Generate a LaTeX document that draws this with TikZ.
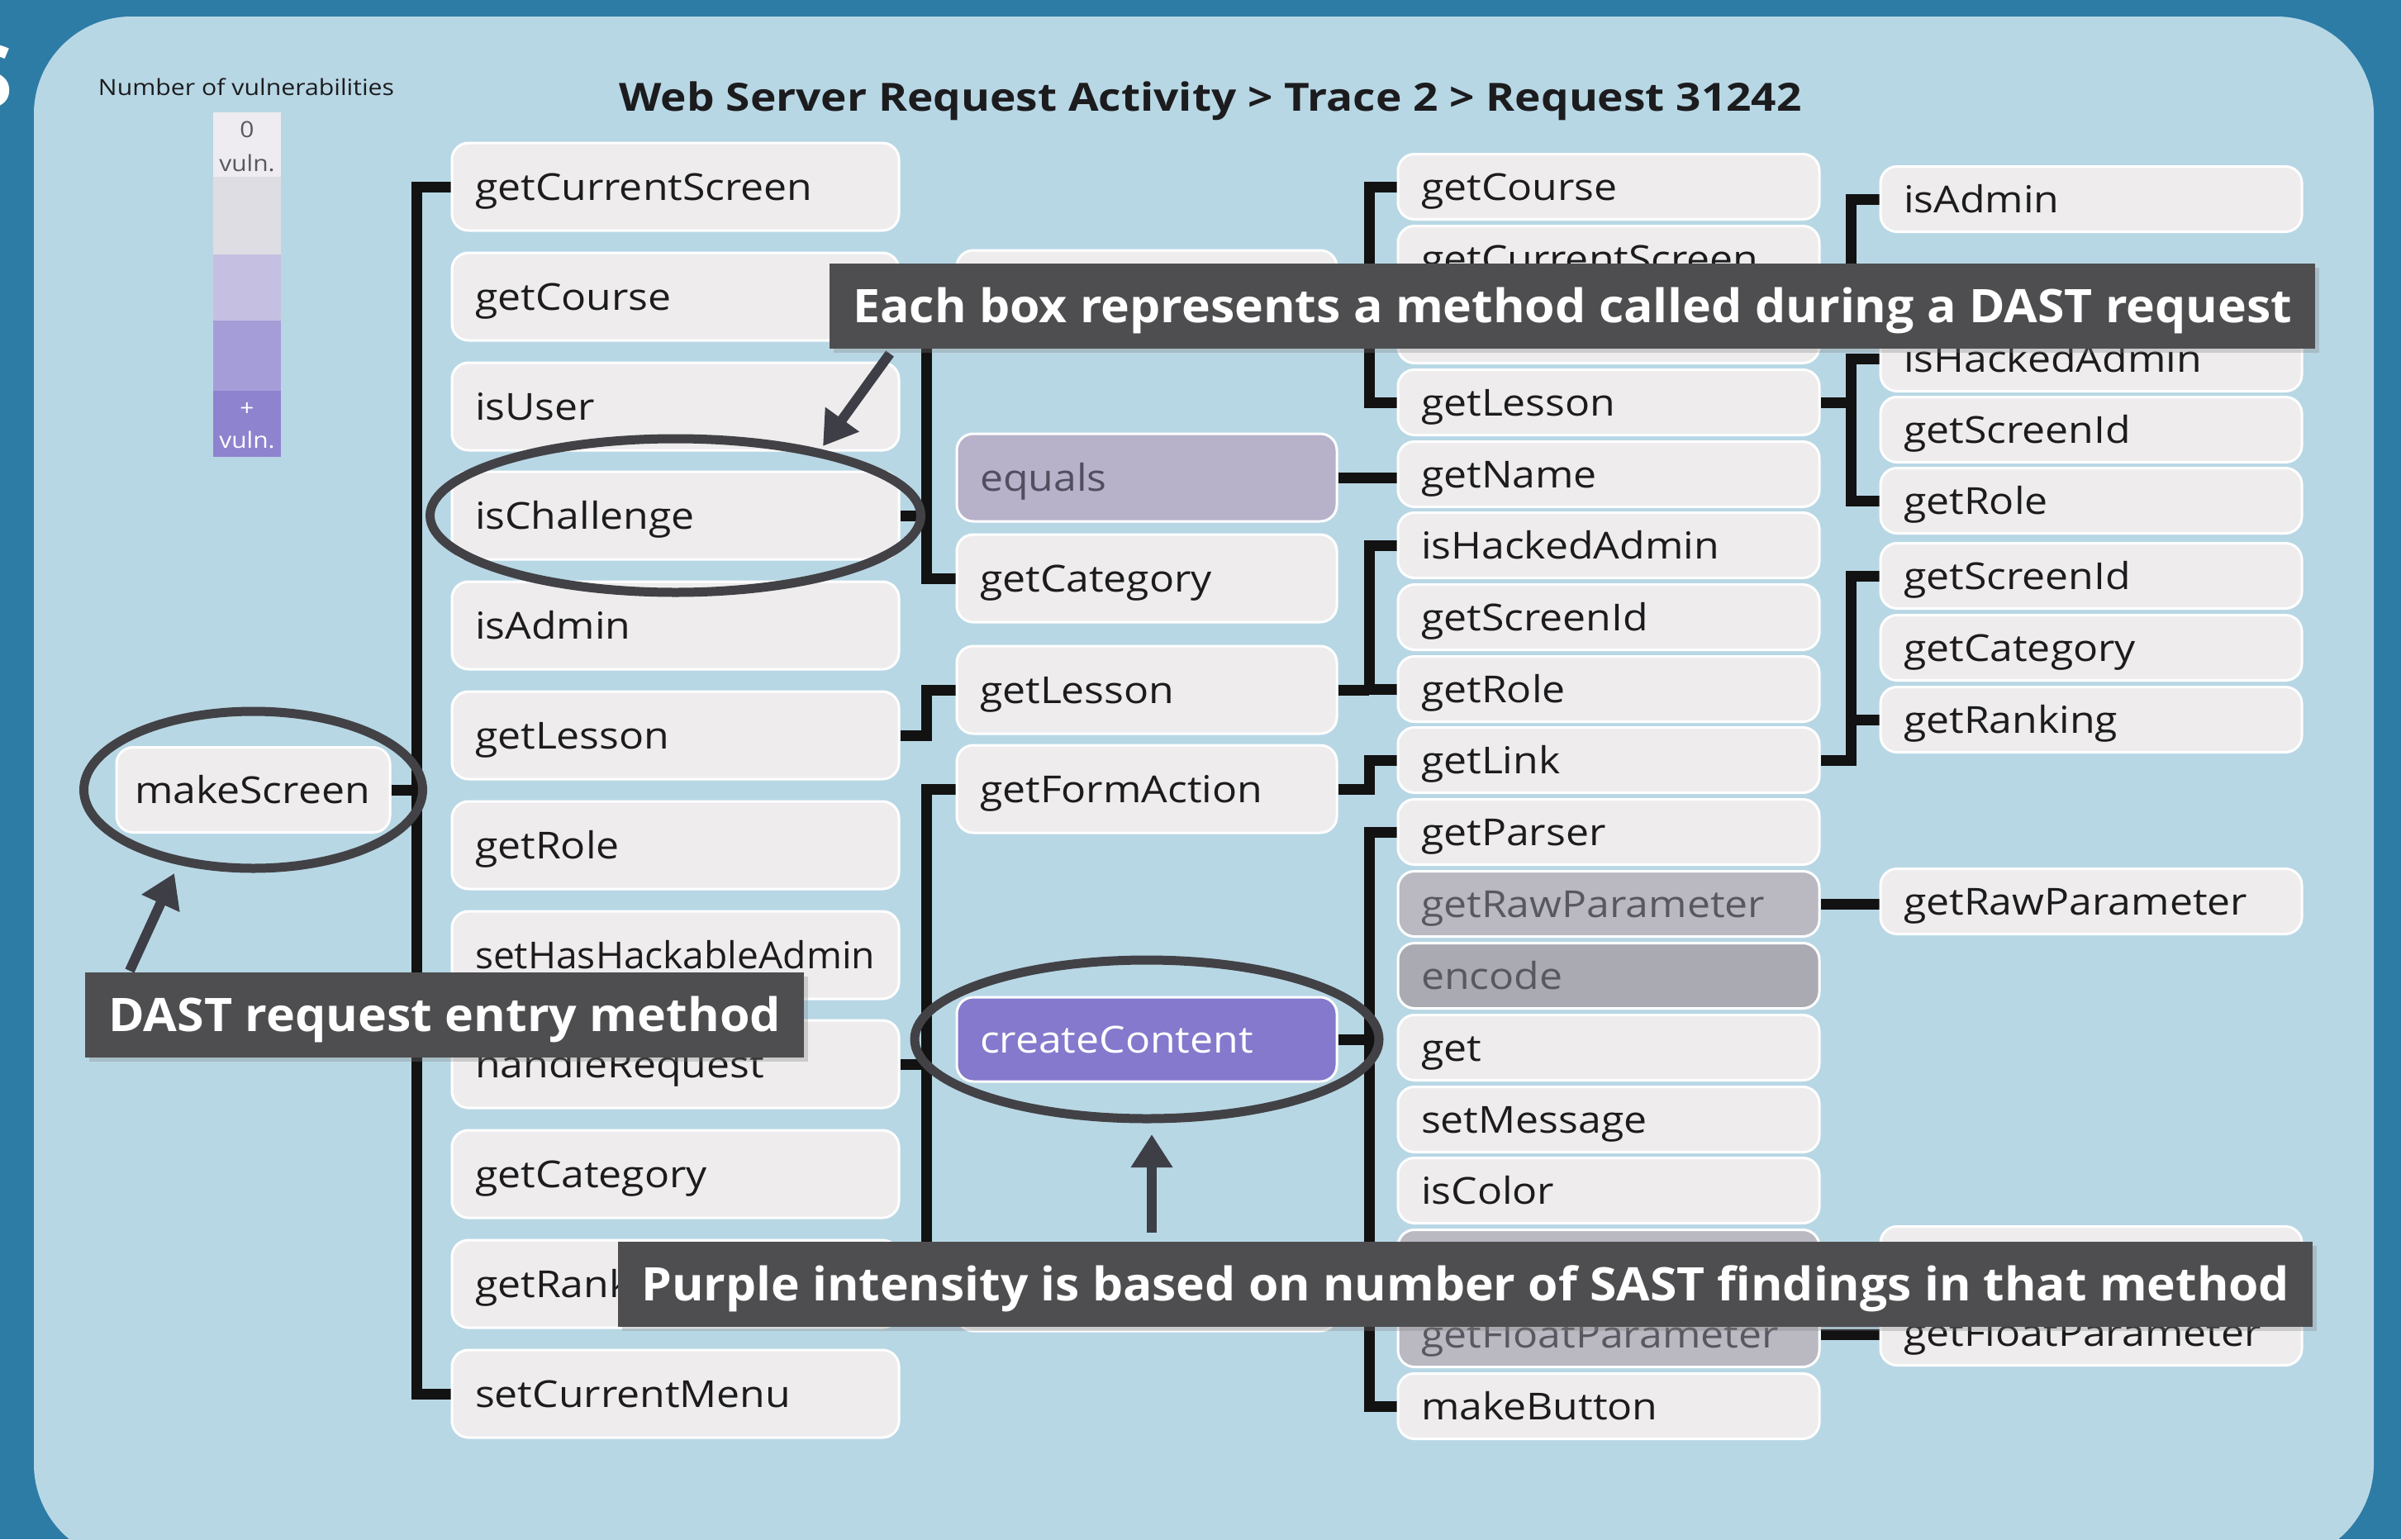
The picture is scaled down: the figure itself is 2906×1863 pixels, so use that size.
\documentclass[tikz,border=0pt]{standalone}
\usepackage{fontspec}
\usepackage{graphicx}
\usetikzlibrary{arrows.meta,shadows}
\newfontfamily\lblfont{Open Sans}[FakeStretch=1.11]
\newfontfamily\plainfont{Open Sans}
\definecolor{outerc}{RGB}{44,124,166}
\definecolor{panelc}{RGB}{184,215,229}
\definecolor{boxfill}{RGB}{238,236,237}
\definecolor{boxtext}{RGB}{28,28,30}
\definecolor{grayfill}{RGB}{186,185,194}
\definecolor{grayfillb}{RGB}{170,170,178}
\definecolor{graytext}{RGB}{88,88,96}
\definecolor{eqfill}{RGB}{183,177,201}
\definecolor{eqtext}{RGB}{80,78,96}
\definecolor{purplefill}{RGB}{132,121,204}
\definecolor{annc}{RGB}{78,78,80}
\definecolor{ringc}{RGB}{66,66,70}
\definecolor{arrc}{RGB}{62,62,70}
\definecolor{connc}{RGB}{18,18,18}
\definecolor{leg1}{RGB}{238,236,240}
\definecolor{leg2}{RGB}{222,221,228}
\definecolor{leg3}{RGB}{197,192,226}
\definecolor{leg4}{RGB}{165,157,216}
\definecolor{leg5}{RGB}{142,131,206}
\pgfdeclarelayer{bglayer}
\pgfdeclarelayer{connlayer}
\pgfdeclarelayer{toplayer}
\pgfsetlayers{bglayer,connlayer,main,toplayer}
\tikzset{
  lbl/.style={font=\lblfont\fontsize{45}{52}\selectfont, text height=32pt, text depth=0pt, inner ysep=0pt, inner xsep=28pt, align=left},
  mbox/.style={lbl, rectangle, rounded corners=20pt, draw=white, line width=3pt, fill=boxfill, text=boxtext},
  widebox/.style={mbox, minimum width=541pt, text width=485pt, minimum height=106pt},
  midbox/.style={mbox, minimum width=460pt, text width=404pt, minimum height=106pt},
  slimbox/.style={mbox, minimum width=510pt, text width=454pt, minimum height=79pt},
  grayb/.style={fill=grayfill, text=graytext},
  graybb/.style={fill=grayfillb, text=graytext},
  eqb/.style={fill=eqfill, text=eqtext},
  purpleb/.style={fill=purplefill, text=white},
  conn/.style={draw=connc, line width=13pt, line join=miter, line cap=butt},
  ring/.style={draw=ringc, line width=11pt},
  callarrow/.style={draw=arrc, line width=12pt, -{Triangle[width=48pt,length=40pt]}},
  annot/.style={rectangle, fill=annc, text=white, font=\plainfont\bfseries\fontsize{56}{60}\selectfont, text height=40pt, text depth=0pt, inner xsep=28pt, inner ysep=0pt, minimum height=103pt, drop shadow={shadow xshift=5pt, shadow yshift=-5pt, opacity=0.3}},
  legtext/.style={font=\lblfont\fontsize{27}{30}\selectfont, inner sep=0pt, text height=19pt, text depth=0pt}
}
\begin{document}
\begin{tikzpicture}[x=1pt,y=-1pt]
\useasboundingbox (0,0) rectangle (2906,1863);
\begin{pgfonlayer}{bglayer}
\fill[outerc] (0,0) rectangle (2906,1863);
\fill[panelc, rounded corners=118pt] (41,20) rectangle (2873,1890);
\end{pgfonlayer}
\begin{scope}
\clip (0,0) rectangle (2906,1863);
\node[anchor=east, inner sep=0pt, text=white, font=\plainfont\bfseries\fontsize{106}{110}\selectfont, text height=76pt, text depth=0pt] (bigS) at (16,92) {S};
\end{scope}

% title and legend
\node[font=\plainfont\bfseries\fontsize{47}{50}\selectfont, text=boxtext, text height=34pt, text depth=0pt, inner sep=0pt] (title) at (1465,117) {\resizebox{1431pt}{\height}{Web Server Request Activity > Trace 2 > Request 31242}};
\node[font=\plainfont\fontsize{27}{30}\selectfont, text=boxtext, text height=19pt, text depth=0pt, inner sep=0pt] (legtitle) at (298,105.5) {\resizebox{358pt}{\height}{Number of vulnerabilities}};
\fill[leg1] (258,136) rectangle (340,214);
\fill[leg2] (258,214) rectangle (340,308);
\fill[leg3] (258,308) rectangle (340,388);
\fill[leg4] (258,388) rectangle (340,473);
\fill[leg5] (258,473) rectangle (340,553);
\node[legtext, text=graytext] (leg0) at (299,157) {0};
\node[legtext, text=graytext] (legv0) at (299,198) {vuln.};
\node[legtext, text=white] (legp) at (299,494) {+};
\node[legtext, text=white] (legvp) at (299,533) {vuln.};

% column 1
\node[mbox, minimum width=331pt, text width=287pt, inner xsep=22pt, minimum height=103pt] (ms) at (306.5,956) {makeScreen};
% column 2
\node[widebox] (c2a) at (817.5,226) {getCurrentScreen};
\node[widebox] (c2b) at (817.5,359) {getCourse};
\node[widebox] (c2c) at (817.5,492) {isUser};
\node[widebox] (c2d) at (817.5,624) {isChallenge};
\node[widebox] (c2e) at (817.5,757) {isAdmin};
\node[widebox] (c2f) at (817.5,890) {getLesson};
\node[widebox] (c2g) at (817.5,1023) {getRole};
\node[widebox] (c2h) at (817.5,1156) {\resizebox{484pt}{\height}{setHasHackableAdmin}};
\node[widebox] (c2i) at (817.5,1288) {handleRequest};
\node[widebox] (c2j) at (817.5,1421) {getCategory};
\node[widebox] (c2k) at (817.5,1554) {getRanking};
\node[widebox] (c2l) at (817.5,1687) {setCurrentMenu};
% column 3
\node[midbox] (c3a) at (1388,356) {};
\node[midbox, eqb] (c3b) at (1388,578) {equals};
\node[midbox] (c3c) at (1388,700) {getCategory};
\node[midbox] (c3d) at (1388,835) {getLesson};
\node[midbox] (c3e) at (1388,955) {getFormAction};
\node[midbox, purpleb, minimum height=102pt] (c3f) at (1388,1258) {createContent};
\node[midbox] (c3g) at (1388,1558) {};
% column 4
\node[slimbox] (k0) at (1947,226) {getCourse};
\node[slimbox] (k1) at (1947,313) {getCurrentScreen};
\node[slimbox] (k2) at (1947,400) {};
\node[slimbox] (k3) at (1947,487) {getLesson};
\node[slimbox] (k4) at (1947,574) {getName};
\node[slimbox] (k5) at (1947,660) {isHackedAdmin};
\node[slimbox] (k6) at (1947,747) {getScreenId};
\node[slimbox] (k7) at (1947,834) {getRole};
\node[slimbox] (k8) at (1947,920) {getLink};
\node[slimbox] (k9) at (1947,1007) {getParser};
\node[slimbox, grayb] (k10) at (1947,1094) {getRawParameter};
\node[slimbox, graybb] (k11) at (1947,1181) {encode};
\node[slimbox] (k12) at (1947,1268) {get};
\node[slimbox] (k13) at (1947,1355) {setMessage};
\node[slimbox] (k14) at (1947,1441) {isColor};
\node[slimbox, grayb] (k15) at (1947,1528) {};
\node[slimbox, grayb] (k16) at (1947,1615) {getFloatParameter};
\node[slimbox] (k17) at (1947,1702) {makeButton};
% column 5
\node[slimbox] (r0) at (2531,241) {isAdmin};
\node[slimbox] (r1) at (2531,434) {isHackedAdmin};
\node[slimbox] (r2) at (2531,520) {getScreenId};
\node[slimbox] (r3) at (2531,606) {getRole};
\node[slimbox] (r4) at (2531,697) {getScreenId};
\node[slimbox] (r5) at (2531,784) {getCategory};
\node[slimbox] (r6) at (2531,871) {getRanking};
\node[slimbox] (r7) at (2531,1091) {getRawParameter};
\node[slimbox] (r8) at (2531,1524) {};
\node[slimbox] (r9) at (2531,1613) {getFloatParameter};

\coordinate (x2) at (504,0);
\coordinate (x3) at (1121,0);
\coordinate (x4) at (1657,0);
\coordinate (x5) at (2240,0);

\begin{pgfonlayer}{connlayer}
\draw[conn] (c2a.west) -- (c2a.west -| x2) -- (c2l.west -| x2) -- (c2l.west);
\draw[conn] (ms.east) -- (ms.east -| x2);
\draw[conn] (c3a.west) -- (c3a.west -| x3) -- (c3c.west -| x3) -- (c3c.west);
\draw[conn] (c2d.east) -- (c2d.east -| x3);
\draw[conn] (c2f.east) -- (c2f.east -| x3) -- (c3d.west -| x3) -- (c3d.west);
\draw[conn] (c3e.west) -- (c3e.west -| x3) -- (c3g.west -| x3) -- (c3g.west);
\draw[conn] (c2i.east) -- (c2i.east -| x3);
\draw[conn] (k0.west) -- (k0.west -| x4) -- (k3.west -| x4) -- (k3.west);
\draw[conn] (c3a.east) -- (c3a.east -| x4);
\draw[conn] (c3b.east) -- (c3b.east -| k4.west);
\draw[conn] (k5.west) -- (k5.west -| x4) -- (k7.west -| x4) -- (k7.west);
\draw[conn] (c3d.east) -- (c3d.east -| x4);
\draw[conn] (c3e.east) -- (c3e.east -| x4) -- (k8.west -| x4) -- (k8.west);
\draw[conn] (k9.west) -- (k9.west -| x4) -- (k17.west -| x4) -- (k17.west);
\draw[conn] (c3f.east) -- (c3f.east -| x4);
\draw[conn] (r0.west) -- (r0.west -| x5) -- (k2.east -| x5) -- (k2.east);
\draw[conn] (r1.west) -- (r1.west -| x5) -- (r3.west -| x5) -- (r3.west);
\draw[conn] (k3.east) -- (k3.east -| x5);
\draw[conn] (r4.west) -- (r4.west -| x5) -- (k8.east -| x5) -- (k8.east);
\draw[conn] (r6.west) -- (r6.west -| x5);
\draw[conn] (k10.east) -- (k10.east -| r7.west);
\draw[conn] (k15.east) -- (k15.east -| r8.west);
\draw[conn] (k16.east) -- (k16.east -| r9.west);
\end{pgfonlayer}

\begin{pgfonlayer}{toplayer}
\draw[ring] (c2d) ellipse [x radius=297, y radius=93];
\draw[ring] (ms) ellipse [x radius=205, y radius=95];
\draw[ring] (c3f) ellipse [x radius=281, y radius=96];
\coordinate (a1s) at (1077,428);
\coordinate (a1e) at (996,540);
\coordinate (a2s) at (157,1175);
\coordinate (a2e) at (211,1057);
\coordinate (a3s) at (1394,1492);
\coordinate (a3e) at (1394,1373);
\draw[callarrow] (a1s) -- (a1e);
\draw[callarrow] (a2s) -- (a2e);
\draw[callarrow] (a3s) -- (a3e);
\node[annot, anchor=north west] (ann1) at (1004,319) {\resizebox{1742pt}{\height}{Each box represents a method called during a DAST request}};
\node[annot, anchor=north west] (ann2) at (103,1177) {\resizebox{814pt}{\height}{DAST request entry method}};
\node[annot, anchor=north west] (ann3) at (748,1503) {\resizebox{1995pt}{\height}{Purple intensity is based on number of SAST findings in that method}};
\end{pgfonlayer}
\end{tikzpicture}
\end{document}
